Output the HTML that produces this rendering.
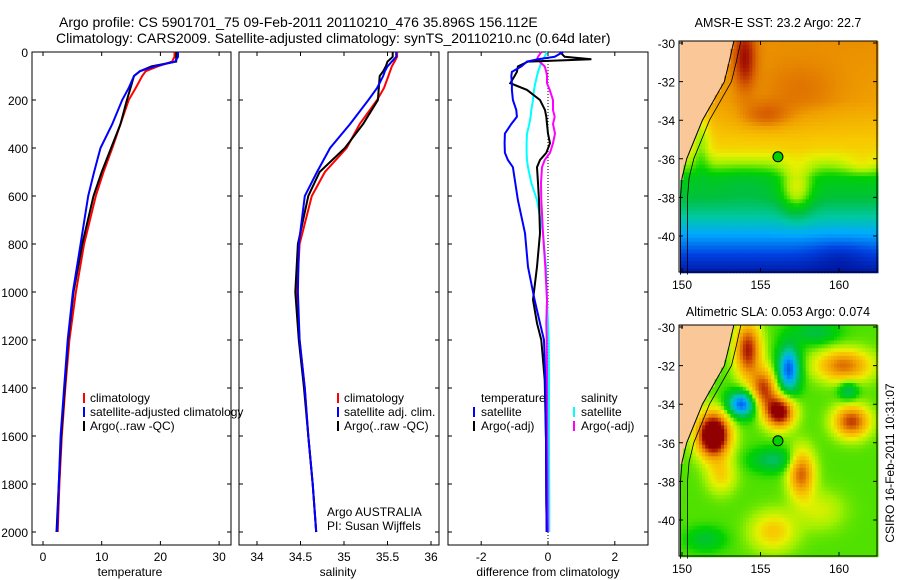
<!DOCTYPE html>
<html><head><meta charset="utf-8">
<style>
body{margin:0;background:#fff;}
svg{display:block;font-family:"Liberation Sans",sans-serif;}
text{fill:#000;}
</style></head>
<body>
<svg id="fig" width="900" height="580" viewBox="0 0 900 580">
<rect width="900" height="580" fill="#fff"/>
<text x="59" y="27" font-size="14">Argo profile: CS 5901701_75 09-Feb-2011 20110210_476 35.896S 156.112E</text>
<text x="56" y="43" font-size="14">Climatology: CARS2009. Satellite-adjusted climatology: synTS_20110210.nc (0.64d later)</text>
<g id="g-p1"></g>
<g id="g-p2"></g>
<g id="g-p3"></g>
<g id="g-m1"></g>
<g id="g-m2"></g>
<text x="130" y="576" font-size="12" text-anchor="middle">temperature</text>
<text x="338" y="576" font-size="12" text-anchor="middle">salinity</text>
<text x="548" y="576" font-size="12" text-anchor="middle">difference from climatology</text>
<text x="778" y="27" font-size="12.5" text-anchor="middle">AMSR-E SST: 23.2 Argo: 22.7</text>
<text x="778" y="316" font-size="12.5" text-anchor="middle">Altimetric SLA: 0.053 Argo: 0.074</text>
<text transform="translate(894,463) rotate(-90)" font-size="12" text-anchor="middle">CSIRO 16-Feb-2011 10:31:07</text>
<text x="90" y="402" font-size="12">climatology</text>
<text x="90" y="416" font-size="12">satellite-adjusted climatology</text>
<text x="90" y="430" font-size="12">Argo(..raw -QC)</text>
<text x="344" y="402" font-size="12">climatology</text>
<text x="344" y="416" font-size="12">satellite adj. clim.</text>
<text x="344" y="430" font-size="12">Argo(..raw -QC)</text>
<text x="327" y="516" font-size="12">Argo AUSTRALIA</text>
<text x="327" y="530" font-size="12">PI: Susan Wijffels</text>
<text x="481" y="402" font-size="12">temperature</text>
<text x="481" y="416" font-size="12">satellite</text>
<text x="481" y="430" font-size="12">Argo(-adj)</text>
<text x="581" y="402" font-size="12">salinity</text>
<text x="581" y="416" font-size="12">satellite</text>
<text x="581" y="430" font-size="12">Argo(-adj)</text>
<rect x="83" y="393" width="2" height="10" fill="#f00"/>
<rect x="83" y="407" width="2" height="10" fill="#00f"/>
<rect x="83" y="421" width="2" height="10" fill="#000"/>
<rect x="337" y="393" width="2" height="10" fill="#f00"/>
<rect x="337" y="407" width="2" height="10" fill="#00f"/>
<rect x="337" y="421" width="2" height="10" fill="#000"/>
<rect x="473" y="407" width="2" height="10" fill="#00f"/>
<rect x="473" y="421" width="2" height="10" fill="#000"/>
<rect x="573" y="407" width="2" height="10" fill="#0ff"/>
<rect x="573" y="421" width="2" height="10" fill="#f0f"/>
</svg>
<script>
// ---- profile data ----
const depthTS = [0,20,40,60,80,100,150,200,300,400,500,600,800,1000,1200,1400,1600,1800,2000];
const climTemp = [22.4,22.4,22,19.5,17.5,16.9,15.8,14.6,13.2,11.8,10.3,9.0,7.0,5.6,4.5,3.8,3.2,2.8,2.5];
const satTemp  = [23,23,22.5,19,16.5,15.5,14.6,13.5,11.8,9.8,8.7,7.7,6.4,5.1,4.2,3.6,3.0,2.7,2.4];
const argoTemp = [22.7,22.7,22.7,18.5,16.5,15.5,14.9,14.3,13.2,11.6,10.0,8.6,6.7,5.2,4.3,3.7,3.1,2.7,2.3];
const climSal = [35.61,35.61,35.58,35.55,35.53,35.51,35.46,35.38,35.18,35.03,34.78,34.63,34.49,34.46,34.49,34.55,34.59,34.64,34.68];
const satSal  = [35.6,35.6,35.55,35.5,35.47,35.45,35.38,35.28,35.07,34.84,34.69,34.55,34.48,34.47,34.49,34.55,34.59,34.64,34.68];
const argoSal = [35.56,35.56,35.5,35.48,35.45,35.41,35.40,35.39,35.22,35.01,34.72,34.59,34.47,34.44,34.48,34.54,34.59,34.64,34.68];
const depthDiff = [0,20,30,40,60,83,100,130,158,200,242,270,300,340,380,420,450,480,546,617,755,895,1033,1130,1200,1366,1616,1866,2000];
const diffTempSat  = [0.45,0.2,-0.3,-0.63,-0.8,-1.08,-1.1,-1.08,-1.08,-1.05,-0.95,-0.93,-1.1,-1.29,-1.3,-1.29,-1.2,-1.05,-0.98,-0.9,-0.69,-0.6,-0.4,-0.24,-0.12,-0.08,-0.06,-0.05,-0.04];
const diffTempArgo = [0.36,0.5,1.3,-0.6,-0.9,-0.93,-1.0,-1.13,-0.63,-0.24,-0.09,-0.05,-0.03,0,0.06,-0.05,-0.24,-0.33,-0.3,-0.27,-0.24,-0.33,-0.45,-0.33,-0.2,-0.1,-0.06,-0.05,-0.04];
const diffSalSat   = [-0.03,-0.1,-0.15,-0.2,-0.24,-0.3,-0.33,-0.38,-0.42,-0.45,-0.5,-0.52,-0.56,-0.63,-0.64,-0.64,-0.63,-0.6,-0.5,-0.33,-0.15,-0.06,-0.03,0,0.02,0.03,0.03,0.04,0.04];
const diffSalArgo  = [-0.2,-0.3,-0.33,-0.25,-0.1,-0.05,-0.03,-0.03,0.05,0.15,0.15,0.2,0.15,0.21,0.15,0.06,-0.1,-0.18,-0.21,-0.2,-0.15,-0.08,-0.03,-0.05,-0.04,-0.03,-0.02,-0.01,0];
const depthTicks = [0,200,400,600,800,1000,1200,1400,1600,1800,2000];
const tempTicks = [0,10,20,30];
const salTicks = [34,34.5,35,35.5,36];
const diffTicks = [-2,0,2];
// ---- map data ----
const mapLonTicks = [150,155,160];
const mapLatTicks = [-30,-32,-34,-36,-38,-40];
const coastLat = [-42,-38,-37,-36,-35,-34,-33,-32,-31,-29.9];
const coastLon = [149.9,149.9,150.0,150.3,150.8,151.3,152.0,152.7,153.0,153.3];
const sstBaseLat = [-42,-41,-40,-39,-38,-37,-36.3,-35.5,-34,-33,-29.9];
const sstBaseVal = [0.05,0.15,0.26,0.36,0.45,0.5,0.6,0.7,0.76,0.8,0.82];
const sstBlobs = [[154,-30.8,0.16,0.7,1.6],[155.3,-33.8,0.1,1.6,0.7],[157.5,-32.5,0.05,2.5,1.5],[157.3,-37.6,0.17,1.0,1.3],[154,-37.2,-0.03,2,1],[151.2,-35,-0.12,0.6,1.6],[160,-41,-0.05,1.8,0.8],[161.5,-36.3,0.06,1.2,0.6]];
const slaBlobs = [[152,-35.6,0.65,1.0,1.1],[154.2,-31.2,0.4,0.8,1.4],[155.2,-33.2,0.35,0.8,1.0],[156.2,-34.4,0.5,0.9,0.8],[160.8,-34.9,0.36,1.1,0.8],[160.3,-32,0.3,1.7,0.8],[157.6,-37.6,0.32,0.8,1.2],[153.8,-34,-0.38,0.9,0.65],[156.8,-32.2,-0.38,0.7,1.2],[155.8,-36.9,-0.15,1.4,0.6],[160.6,-33.3,-0.16,0.6,0.5],[155.8,-40.6,0.16,1.4,1.0],[151.5,-41,-0.1,1.2,0.6],[158.5,-30.3,-0.12,1.4,0.6],[152.5,-37.7,0.14,0.9,0.9],[158.8,-39.5,0.08,1.5,1.0]];
const argoLon = 156.112, argoLat = -35.896;

const NS='http://www.w3.org/2000/svg';
function el(tag,parent,attrs){const e=document.createElementNS(NS,tag);for(const k in attrs)e.setAttribute(k,attrs[k]);parent.appendChild(e);return e;}
const yD = d => 52 + d*0.24;
function interp(xs,ys,x){if(x<=xs[0])return ys[0];for(let i=1;i<xs.length;i++){if(x<=xs[i]){const t=(x-xs[i-1])/(xs[i]-xs[i-1]);return ys[i-1]+t*(ys[i]-ys[i-1]);}}return ys[ys.length-1];}

function panel(gid,x0,x1,xf,xt,tlbl,showY){
  const g=document.getElementById(gid);
  const fr=el('rect',g,{x:x0,y:52,width:x1-x0,height:493,fill:'none',stroke:'#000','stroke-width':1});
  
  
  depthTicks.forEach(d=>{
    const y=yD(d);
    const t=el('path',g,{d:`M${x0},${y}h4M${x1},${y}h-4`,stroke:'#000'});
    
    
    if(showY){const l=el('text',g,{x:28,y:y+5,'font-size':12,'text-anchor':'end'});l.textContent=d;
      
      }
  });
  xt.forEach(v=>{
    const x=xf(v);
    const t=el('path',g,{d:`M${x},52v4M${x},545v-4`,stroke:'#000'});
    
    
    const l=el('text',g,{x:x,y:561,'font-size':12,'text-anchor':'middle'});l.textContent=tlbl(v);
    
    
  });
  return g;
}
function line(g,xf,depths,vals,color,name){
  const pts=depths.map((d,i)=>xf(vals[i]).toFixed(1)+','+yD(d).toFixed(1)).join(' ');
  const p=el('polyline',g,{points:pts,fill:'none',stroke:color,'stroke-width':2});
  
  
}
const xT=v=>43+v*5.87, xS=v=>257+(v-34)*87, xDf=v=>548+v*33.4;
const g1=panel('g-p1',32,231,xT,tempTicks,v=>v,true);
line(g1,xT,depthTS,climTemp,'#f00','temp-climatology-line');
line(g1,xT,depthTS,argoTemp,'#000','temp-argo-line');
line(g1,xT,depthTS,satTemp,'#00f','temp-satellite-line');
const g2=panel('g-p2',239,439,xS,salTicks,v=>v,false);
line(g2,xS,depthTS,climSal,'#f00','sal-climatology-line');
line(g2,xS,depthTS,argoSal,'#000','sal-argo-line');
line(g2,xS,depthTS,satSal,'#00f','sal-satellite-line');
const g3=panel('g-p3',448,648,xDf,diffTicks,v=>v,false);
const zl=el('line',g3,{x1:xDf(0),y1:52,x2:xDf(0),y2:545,stroke:'#000','stroke-dasharray':'1,2'});


line(g3,xDf,depthDiff,diffSalSat,'#0ff','diff-sal-satellite-line');
line(g3,xDf,depthDiff,diffSalArgo,'#f0f','diff-sal-argo-line');
line(g3,xDf,depthDiff,diffTempArgo,'#000','diff-temp-argo-line');
line(g3,xDf,depthDiff,diffTempSat,'#00f','diff-temp-satellite-line');

// ---- maps ----
const stops=[[0,[0,0,128]],[0.15,[0,64,224]],[0.27,[0,170,255]],[0.36,[0,200,160]],[0.44,[0,192,64]],[0.52,[0,210,0]],[0.6,[160,240,0]],[0.66,[232,240,0]],[0.72,[248,200,0]],[0.8,[240,160,0]],[0.88,[216,96,0]],[0.95,[176,32,0]],[1,[144,0,0]]];
function cmap(v){v=Math.max(0,Math.min(1,v));for(let i=1;i<stops.length;i++){if(v<=stops[i][0]){const a=stops[i-1],b=stops[i],t=(v-a[0])/(b[0]-a[0]);const c=a[1].map((c0,k)=>Math.round(c0+t*(b[1][k]-c0)));return `rgb(${c[0]},${c[1]},${c[2]})`;}}return 'rgb(144,0,0)';}
function blobSum(blobs,lon,lat){let s=0;blobs.forEach(b=>{const dx=(lon-b[0])/b[3],dy=(lat-b[1])/b[4];s+=b[2]*Math.exp(-(dx*dx+dy*dy));});return s;}
function drawMap(gid,top,field){
  const g=document.getElementById(gid);
  const lx=lon=>682+(lon-150)*15.7, ly=lat=>top+2+(-30-lat)*19.3;
  const step=0.2;
  for(let lat=-29.9;lat>-41.8;lat-=step){
    for(let lon=149.88;lon<162.45;lon+=step){
      const cl=interp(coastLat,coastLon,lat-step/2);
      const fill = (lon+step/2<cl) ? '#fac898' : cmap(field(lon+step/2,lat-step/2));
      const r=el('rect',g,{x:lx(lon).toFixed(2),y:ly(lat).toFixed(2),width:(step*15.7+0.6).toFixed(2),height:(step*19.3+0.6).toFixed(2),fill:fill});
      
      
    }
  }
  const cpts=coastLat.map((la,i)=>lx(coastLon[i])+','+ly(la)).join(' ');
  const c=el('polyline',g,{points:cpts,fill:'none',stroke:'#000','stroke-width':1});
  
  
  const ipts=coastLat.map((la,i)=>lx(coastLon[i]+0.45)+','+ly(la)).join(' ');
  const iso=el('polyline',g,{points:ipts,fill:'none',stroke:'#000','stroke-width':0.8});
  
  
  const bottom=top+231;
  const wm=el('rect',g,{x:679,y:top,width:198,height:231,fill:'none',stroke:'#000'});
  
  
  const mk=el('circle',g,{cx:lx(argoLon),cy:ly(argoLat),r:5,fill:'#00d000',stroke:'#000'});
  
  
  mapLatTicks.forEach(la=>{const y=ly(la);
    const t=el('path',g,{d:`M679,${y}h4M877,${y}h-4`,stroke:'#000'});
    
    
    const l=el('text',g,{x:675,y:y+5,'font-size':12,'text-anchor':'end'});l.textContent=la;
    
    });
  mapLonTicks.forEach(lo=>{const x=lx(lo);
    const t=el('path',g,{d:`M${x},${top}v4M${x},${bottom}v-4`,stroke:'#000'});
    
    
    const l=el('text',g,{x:x,y:bottom+17,'font-size':12,'text-anchor':'middle'});l.textContent=lo;
    
    });
}
drawMap('g-m1',41,(lon,lat)=>interp(sstBaseLat,sstBaseVal,lat)+blobSum(sstBlobs,lon,lat));
drawMap('g-m2',325,(lon,lat)=>0.56+blobSum(slaBlobs,lon,lat));
</script>
</body></html>
